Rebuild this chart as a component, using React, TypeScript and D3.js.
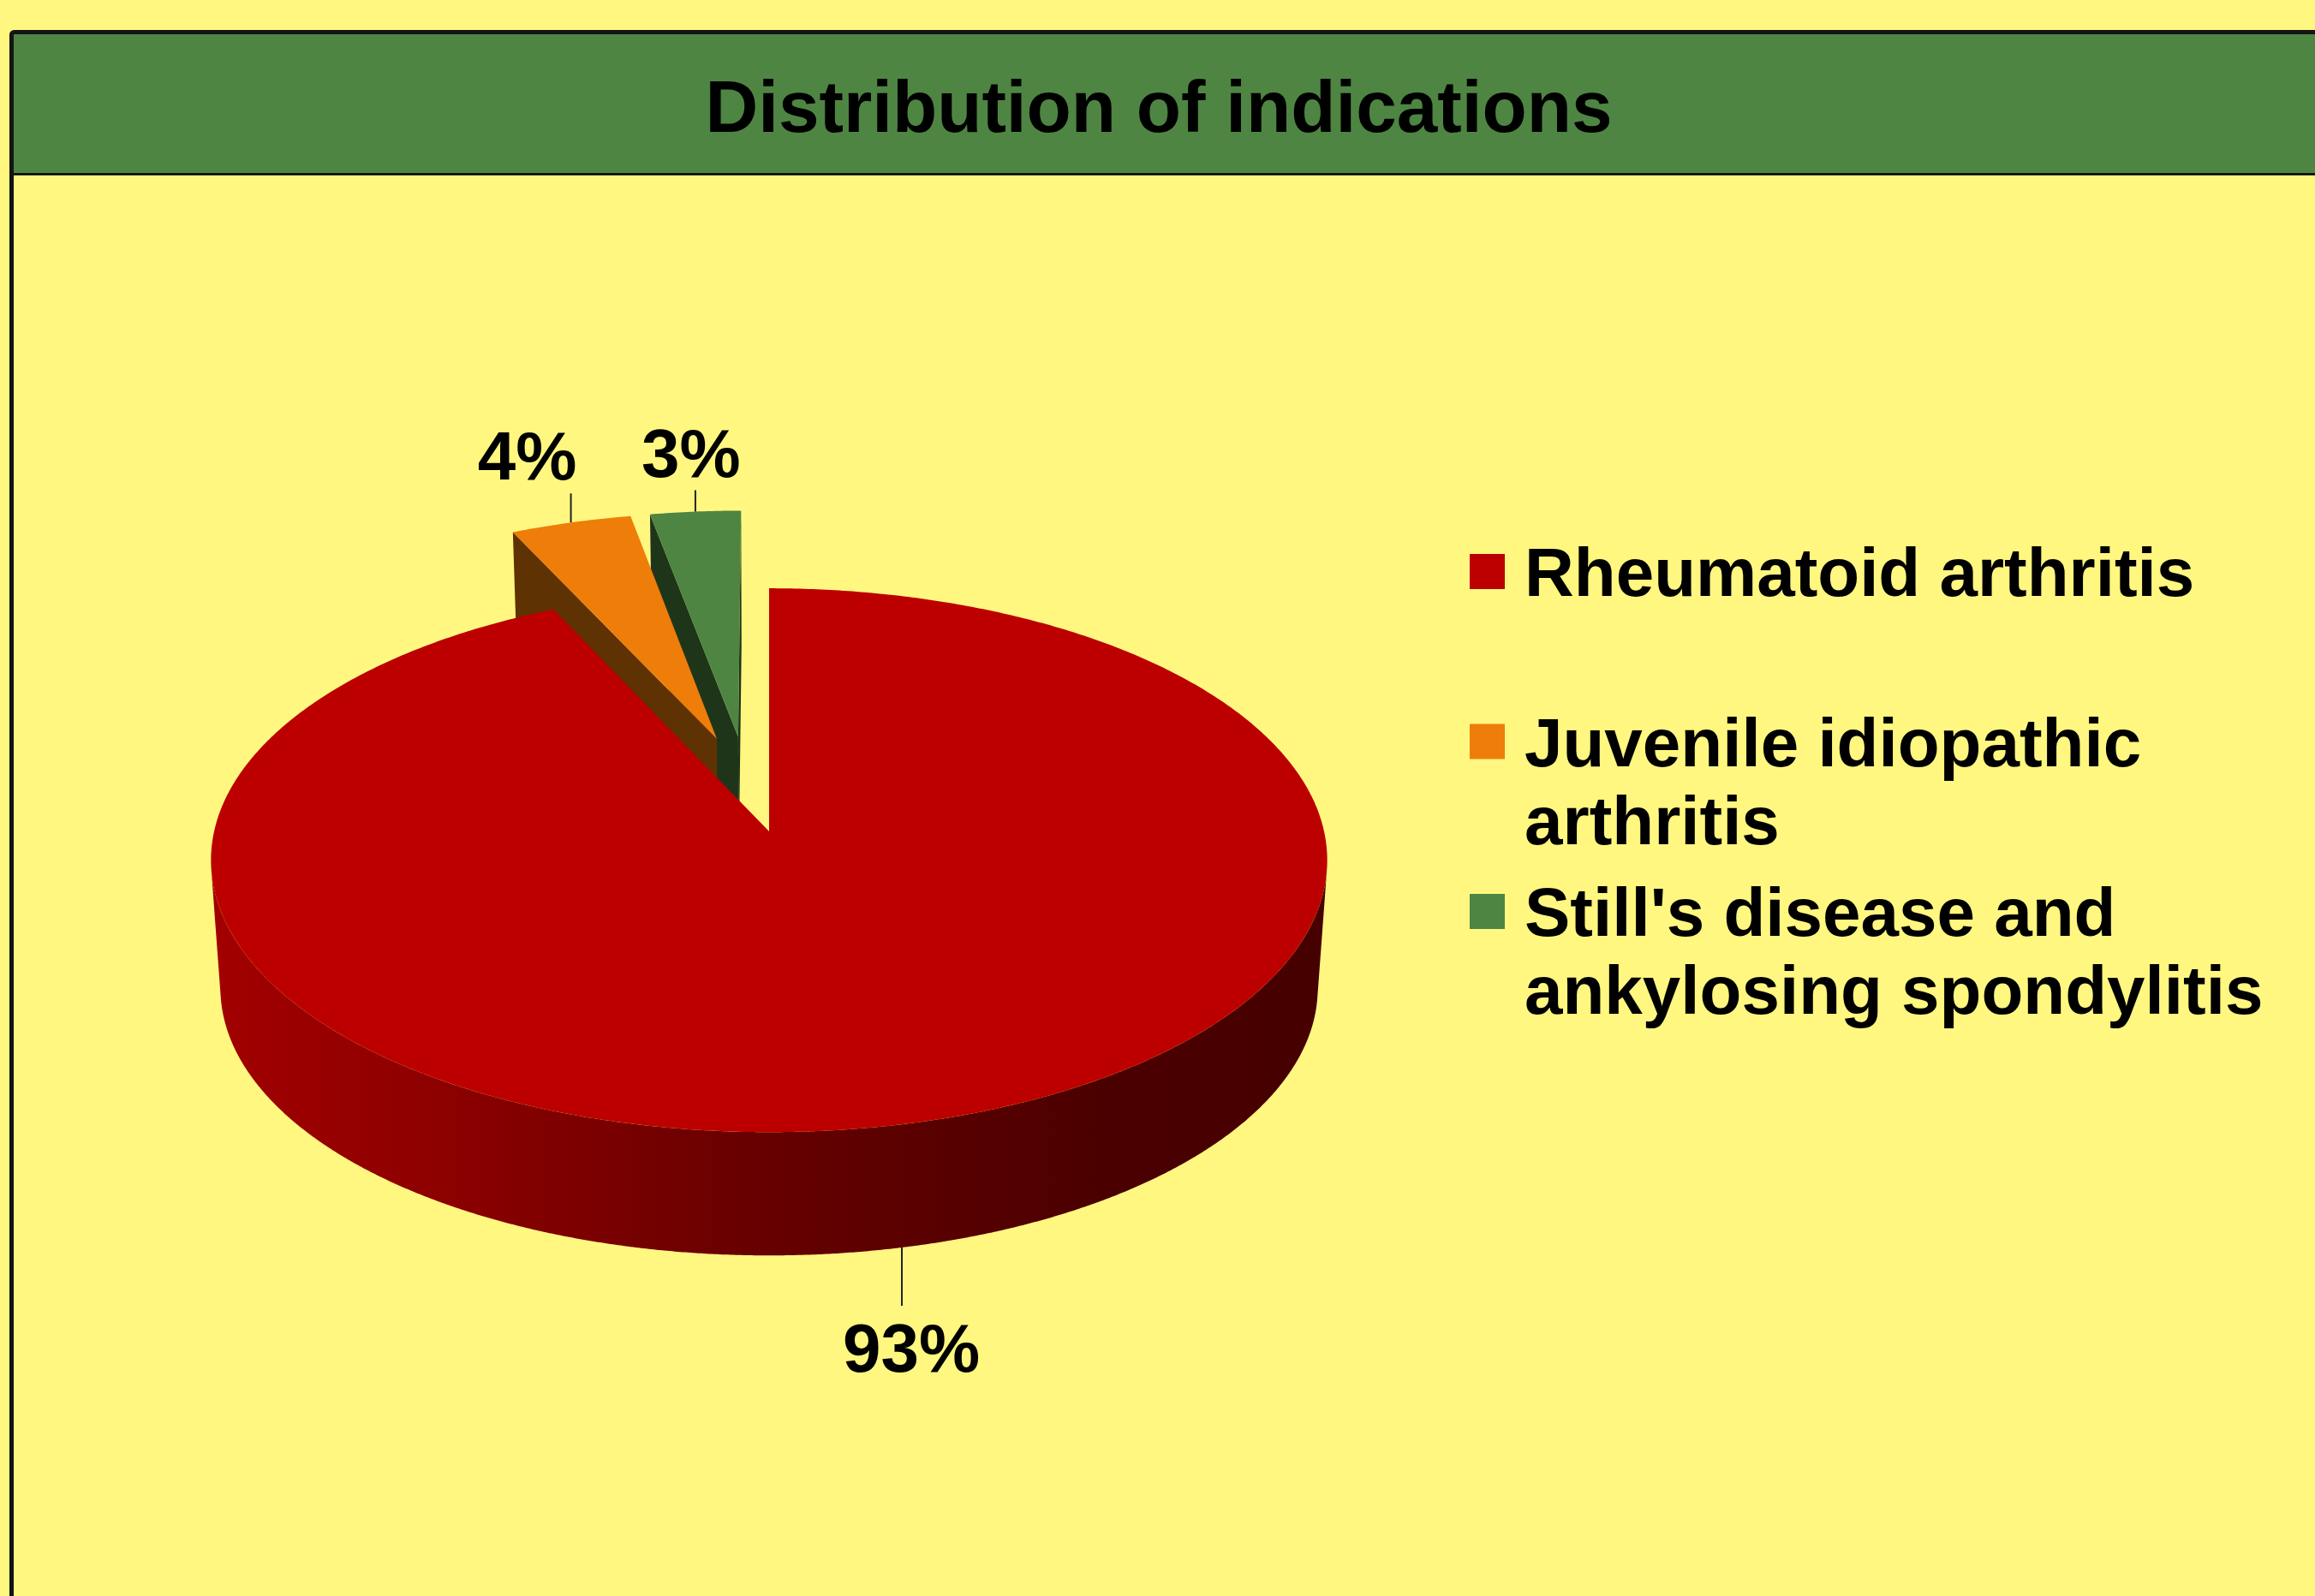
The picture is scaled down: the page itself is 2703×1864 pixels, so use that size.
import React, { useEffect, useRef } from 'react';
import * as d3 from 'd3';

// chart data
const title = 'Distribution of indications';
const categories = [
  'Rheumatoid arthritis',
  'Juvenile idiopathic arthritis',
  "Still's disease and ankylosing spondylitis",
];
const legendLines = [
  ['Rheumatoid arthritis'],
  ['Juvenile idiopathic', 'arthritis'],
  ["Still's disease and", 'ankylosing spondylitis'],
];
const values = [93, 4, 3];
const percentLabels = ['93%', '4%', '3%'];

// styling
const sliceColors = ['#BC0000', '#EE7D0A', '#4E8542'];
const explode = [0, 0.37, 0.37];
const labelLayout = [
  { dx: 11, len: 68 },
  { dx: -51, len: 34 },
  { dx: -5, len: 25 },
];

const W = 2703;
const H = 1864;
const BG = '#FFF780';
const FONT = "'Liberation Sans', Arial, Helvetica, sans-serif";

// pseudo 3D projection
const CX = 898;
const CY = 971;
const RX = 648;
const RY = 314;
const K = 0.106; // perspective
const DEPTH = 150;
const BOTTOM_SCALE = 0.983;
const CAM_Z = -7.22;

const project = (wx: number, wz: number, bottom: boolean): [number, number] => {
  const s = 1 / (1 + K * wz);
  const b = bottom ? BOTTOM_SCALE : 1;
  return [CX + RX * wx * s * b, CY - RY * wz * s * b + (bottom ? DEPTH : 0)];
};

const shade = (c: string, f: number) => {
  const r = d3.rgb(c);
  return d3.rgb(r.r * f, r.g * f, r.b * f).formatHex();
};

const App: React.FC = () => {
  const svgRef = useRef<SVGSVGElement>(null);

  useEffect(() => {
    document.body.style.margin = '0';
    if (!svgRef.current) return;
    const svg = d3.select(svgRef.current);
    svg.selectAll('*').remove();

    const defs = svg.append('defs');
    svg.append('rect').attr('width', W).attr('height', H).attr('fill', BG);

    // title band + frame
    svg.append('rect').attr('x', 16).attr('y', 40).attr('width', W).attr('height', 163).attr('fill', '#4E8542');
    svg.append('line').attr('x1', 16).attr('x2', W).attr('y1', 203.5).attr('y2', 203.5)
      .attr('stroke', '#000').attr('stroke-width', 2.5);
    svg.append('rect').attr('x', 13.5).attr('y', 37.5).attr('width', W + 50).attr('height', H + 50)
      .attr('fill', 'none').attr('stroke', '#141414').attr('stroke-width', 5).attr('rx', 3);

    svg.append('text')
      .attr('x', 1353).attr('y', 154)
      .attr('text-anchor', 'middle')
      .attr('font-family', FONT).attr('font-weight', 'bold').attr('font-size', 85.5)
      .attr('fill', '#000')
      .text(title);

    // pie
    const pie = d3.pie<number>().sort(null).value(d => d);
    const arcs = pie(values);
    const line = d3.line();

    // exploded slices are pushed out roughly toward the centre of the exploded group
    const ex = arcs.filter((_, i) => explode[i] > 0);
    const groupMid = ex.length
      ? (d3.min(ex, a => a.startAngle)! + d3.max(ex, a => a.endAngle)!) / 2
      : 0;

    const slices = arcs.map((a, i) => {
      const mid = (a.startAngle + a.endAngle) / 2;
      const dir = explode[i] > 0 ? (mid + groupMid) / 2 : mid;
      const ox = explode[i] * Math.sin(dir);
      const oz = explode[i] * Math.cos(dir);
      const pt = (t: number, r: number, bottom: boolean) =>
        project(ox + r * Math.sin(t), oz + r * Math.cos(t), bottom);
      const arcPts = (a0: number, a1: number, bottom: boolean) => {
        const n = Math.max(2, Math.ceil((a1 - a0) / (Math.PI / 360)));
        return d3.range(n + 1).map(j => pt(a0 + ((a1 - a0) * j) / n, 1, bottom));
      };
      const cz = oz + 0.5 * Math.cos(mid);
      const cx = ox + 0.5 * Math.sin(mid);
      const dist = Math.hypot(cx, cz - CAM_Z);
      return { a, i, mid, ox, oz, pt, arcPts, dist };
    });

    slices.sort((p, q) => q.dist - p.dist);

    const g = svg.append('g');

    slices.forEach(s => {
      const { a, i, ox, oz, pt, arcPts } = s;
      const color = sliceColors[i];
      const wallColor = shade(color, 0.4);

      const grad = defs.append('linearGradient')
        .attr('id', `side-${i}`)
        .attr('gradientUnits', 'userSpaceOnUse')
        .attr('x1', CX - RX).attr('x2', CX + RX).attr('y1', 0).attr('y2', 0);
      [[0, 0.86], [0.2, 0.75], [0.5, 0.54], [0.8, 0.4], [1, 0.37]].forEach(([o, f]) => {
        grad.append('stop').attr('offset', o).attr('stop-color', shade(color, f));
      });

      // radial walls
      const walls: { phi: number; vis: boolean }[] = [
        { phi: a.startAngle, vis: (-ox) * -Math.cos(a.startAngle) + (CAM_Z - oz) * Math.sin(a.startAngle) > 0 },
        { phi: a.endAngle, vis: (-ox) * Math.cos(a.endAngle) + (CAM_Z - oz) * -Math.sin(a.endAngle) > 0.01 },
      ];
      walls.forEach(w => {
        if (!w.vis) return;
        const pts: [number, number][] = [
          pt(0, 0, false), pt(w.phi, 1, false), pt(w.phi, 1, true), pt(0, 0, true),
        ];
        g.append('path').attr('d', line(pts) + 'Z').attr('fill', wallColor);
      });

      // outer wall, visible runs only
      const step = Math.PI / 720;
      const n = Math.max(2, Math.ceil((a.endAngle - a.startAngle) / step));
      let run: number[] = [];
      const runs: number[][] = [];
      for (let j = 0; j <= n; j++) {
        const t = a.startAngle + ((a.endAngle - a.startAngle) * j) / n;
        const v = -ox * Math.sin(t) + (CAM_Z - oz) * Math.cos(t) - 1 > 0;
        if (v) run.push(t);
        else if (run.length) { runs.push(run); run = []; }
      }
      if (run.length) runs.push(run);
      runs.forEach(r => {
        if (r.length < 2) return;
        const top = r.map(t => pt(t, 1, false));
        const bot = r.map(t => pt(t, 1, true)).reverse();
        g.append('path').attr('d', line([...top, ...bot]) + 'Z').attr('fill', `url(#side-${i})`);
      });

      // top face
      const face: [number, number][] = [pt(0, 0, false), ...arcPts(a.startAngle, a.endAngle, false)];
      g.append('path').attr('d', line(face) + 'Z').attr('fill', color);
    });

    // data labels
    slices.forEach(s => {
      const { i, mid, pt } = s;
      const lay = labelLayout[i];
      const back = Math.cos(mid) > 0;
      const [x0, y0] = pt(mid, 1, !back);
      const y1 = back ? y0 - lay.len : y0 + lay.len;
      svg.append('line')
        .attr('x1', x0).attr('x2', x0).attr('y1', y0).attr('y2', y1)
        .attr('stroke', '#222').attr('stroke-width', 2);
      svg.append('text')
        .attr('x', x0 + lay.dx)
        .attr('y', back ? y1 - 16 : y1 + 77)
        .attr('text-anchor', 'middle')
        .attr('font-family', FONT).attr('font-weight', 'bold').attr('font-size', 80)
        .attr('fill', '#000')
        .text(percentLabels[i]);
    });

    // legend
    const legend = svg.append('g').attr('class', 'legend');
    categories.forEach((c, i) => {
      const base = 696 + i * 198.5;
      const item = legend.append('g').attr('data-name', c);
      item.append('rect')
        .attr('x', 1716).attr('y', base - 49).attr('width', 41).attr('height', 41)
        .attr('fill', sliceColors[i]);
      legendLines[i].forEach((ln, j) => {
        item.append('text')
          .attr('x', 1780).attr('y', base + j * 91)
          .attr('font-family', FONT).attr('font-weight', 'bold').attr('font-size', 80)
          .attr('fill', '#000')
          .text(ln);
      });
    });
  }, []);

  return (
    <svg
      ref={svgRef}
      width={W}
      height={H}
      style={{ position: 'absolute', left: 0, top: 0, display: 'block' }}
    />
  );
};

export default App;
